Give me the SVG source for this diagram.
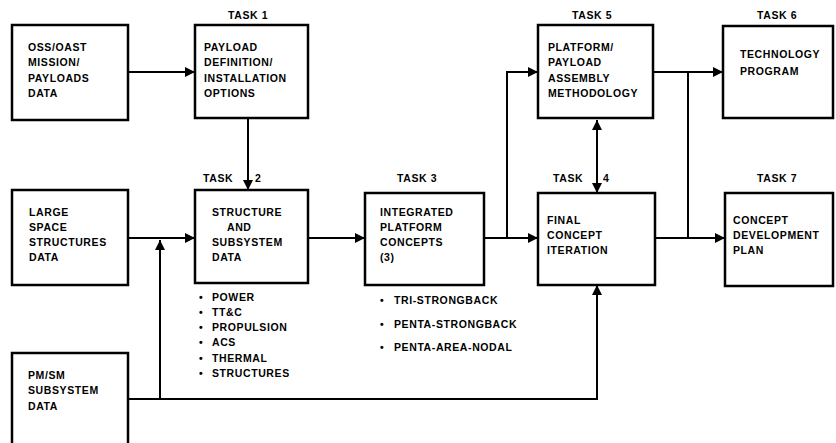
<svg xmlns="http://www.w3.org/2000/svg" width="836" height="443" viewBox="0 0 836 443">
<defs>
<marker id="ah" viewBox="0 0 10 10" refX="10" refY="5" markerWidth="10" markerHeight="10" markerUnits="userSpaceOnUse" orient="auto-start-reverse">
<path d="M0,0 L10,5 L0,10 z" fill="#000"/>
</marker>
<style>
.box{fill:#fff;stroke:#000;stroke-width:2.5}
.t{font-family:"Liberation Sans",Arial,sans-serif;font-weight:bold;font-size:10.5px;letter-spacing:0.6px;fill:#000}
.c{fill:none;stroke:#000;stroke-width:2}
</style>
</defs>
<rect width="836" height="443" fill="#fff"/>
<g id="connectors">
<line class="c" x1="128" y1="72" x2="195" y2="72" marker-end="url(#ah)"/>
<line class="c" x1="248" y1="118" x2="248" y2="190" marker-end="url(#ah)"/>
<line class="c" x1="128" y1="238" x2="195" y2="238" marker-end="url(#ah)"/>
<polyline class="c" points="128,399 160,399 160,240" marker-end="url(#ah)"/>
<polyline class="c" points="160,399 597,399 597,285" marker-end="url(#ah)"/>
<line class="c" x1="308" y1="238" x2="365" y2="238" marker-end="url(#ah)"/>
<line class="c" x1="484" y1="238" x2="538" y2="238" marker-end="url(#ah)"/>
<polyline class="c" points="507,238 507,72 538,72" marker-end="url(#ah)"/>
<line class="c" x1="597" y1="120" x2="597" y2="193" marker-start="url(#ah)" marker-end="url(#ah)"/>
<line class="c" x1="653" y1="72" x2="723" y2="72" marker-end="url(#ah)"/>
<line class="c" x1="688" y1="72" x2="688" y2="238"/>
<line class="c" x1="655" y1="238" x2="725" y2="238" marker-end="url(#ah)"/>
</g>
<g id="oss">
<rect class="box" x="12" y="25" width="116" height="95"/>
<text class="t" x="28" y="51">OSS/OAST</text>
<text class="t" x="28" y="66">MISSION/</text>
<text class="t" x="28" y="82">PAYLOADS</text>
<text class="t" x="28" y="97">DATA</text>
</g>
<g id="task1">
<text class="t" x="228" y="19">TASK 1</text>
<rect class="box" x="195" y="25" width="113" height="93"/>
<text class="t" x="204" y="51">PAYLOAD</text>
<text class="t" x="204" y="66">DEFINITION/</text>
<text class="t" x="204" y="82">INSTALLATION</text>
<text class="t" x="204" y="97">OPTIONS</text>
</g>
<g id="lss">
<rect class="box" x="12" y="190" width="116" height="95"/>
<text class="t" x="29" y="216">LARGE</text>
<text class="t" x="29" y="231">SPACE</text>
<text class="t" x="29" y="246">STRUCTURES</text>
<text class="t" x="29" y="261">DATA</text>
</g>
<g id="task2">
<text class="t" x="203" y="182">TASK</text>
<text class="t" x="255" y="182">2</text>
<rect class="box" x="195" y="190" width="113" height="93"/>
<text class="t" x="212" y="216">STRUCTURE</text>
<text class="t" x="227" y="231">AND</text>
<text class="t" x="212" y="246">SUBSYSTEM</text>
<text class="t" x="212" y="261">DATA</text>
<text class="t" x="199" y="301">•</text><text class="t" x="212" y="301">POWER</text>
<text class="t" x="199" y="316">•</text><text class="t" x="212" y="316">TT&amp;C</text>
<text class="t" x="199" y="331">•</text><text class="t" x="212" y="331">PROPULSION</text>
<text class="t" x="199" y="346">•</text><text class="t" x="212" y="346">ACS</text>
<text class="t" x="199" y="362">•</text><text class="t" x="212" y="362">THERMAL</text>
<text class="t" x="199" y="377">•</text><text class="t" x="212" y="377">STRUCTURES</text>
</g>
<g id="task3">
<text class="t" x="397" y="182">TASK 3</text>
<rect class="box" x="365" y="193" width="119" height="92"/>
<text class="t" x="380" y="216">INTEGRATED</text>
<text class="t" x="380" y="231">PLATFORM</text>
<text class="t" x="380" y="246">CONCEPTS</text>
<text class="t" x="380" y="261">(3)</text>
<text class="t" x="380" y="304">•</text><text class="t" x="394" y="304">TRI-STRONGBACK</text>
<text class="t" x="380" y="328">•</text><text class="t" x="394" y="328">PENTA-STRONGBACK</text>
<text class="t" x="380" y="351">•</text><text class="t" x="394" y="351">PENTA-AREA-NODAL</text>
</g>
<g id="task4">
<text class="t" x="553" y="182">TASK</text>
<text class="t" x="603" y="182">4</text>
<rect class="box" x="538" y="193" width="117" height="92"/>
<text class="t" x="547" y="224">FINAL</text>
<text class="t" x="547" y="239">CONCEPT</text>
<text class="t" x="547" y="254">ITERATION</text>
</g>
<g id="task5">
<text class="t" x="572" y="19">TASK 5</text>
<rect class="box" x="538" y="25" width="115" height="93"/>
<text class="t" x="548" y="51">PLATFORM/</text>
<text class="t" x="548" y="66">PAYLOAD</text>
<text class="t" x="548" y="82">ASSEMBLY</text>
<text class="t" x="548" y="97">METHODOLOGY</text>
</g>
<g id="task6">
<text class="t" x="757" y="19">TASK 6</text>
<rect class="box" x="723" y="26" width="110" height="92"/>
<text class="t" x="740" y="58">TECHNOLOGY</text>
<text class="t" x="740" y="75">PROGRAM</text>
</g>
<g id="task7">
<text class="t" x="757" y="182">TASK 7</text>
<rect class="box" x="725" y="193" width="108" height="93"/>
<text class="t" x="733" y="224">CONCEPT</text>
<text class="t" x="733" y="239">DEVELOPMENT</text>
<text class="t" x="733" y="254">PLAN</text>
</g>
<g id="pmsm">
<rect class="box" x="12" y="353" width="116" height="100"/>
<text class="t" x="28" y="379">PM/SM</text>
<text class="t" x="28" y="394">SUBSYSTEM</text>
<text class="t" x="28" y="410">DATA</text>
</g>
</svg>
